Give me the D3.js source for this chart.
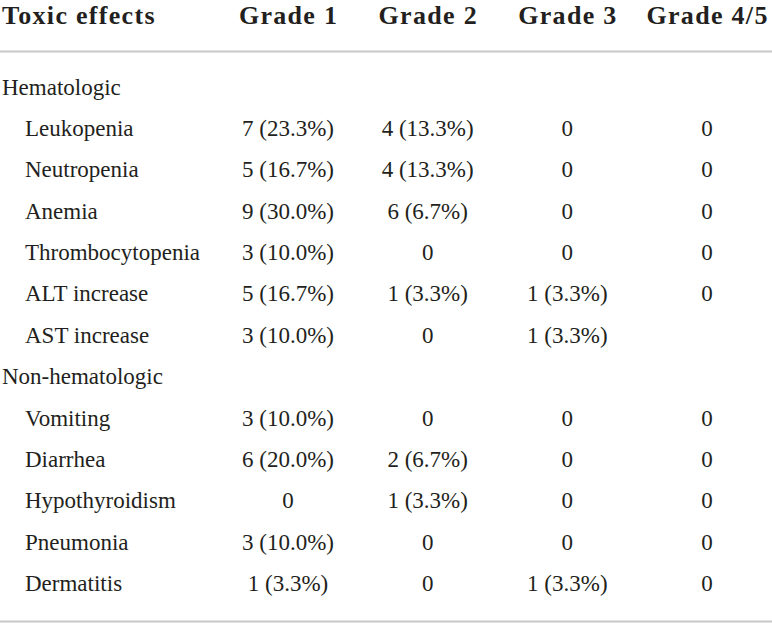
<!DOCTYPE html>
<html>
<head>
<meta charset="utf-8">
<script src="https://cdn.jsdelivr.net/npm/d3@7"></script>
<style>
  html, body { margin: 0; padding: 0; background: #fff; }
  svg { display: block; }
</style>
</head>
<body>
<div id="chart"></div>
<script>
// column headers
var columns = ["Grade 1", "Grade 2", "Grade 3", "Grade 4/5"];

// table rows, in order; section rows have no values
var rowLabels = [
    "Hematologic", "Leukopenia", "Neutropenia", "Anemia", "Thrombocytopenia",
    "ALT increase", "AST increase",
    "Non-hematologic", "Vomiting", "Diarrhea", "Hypothyroidism", "Pneumonia", "Dermatitis"
];
var sectionRows = ["Hematologic", "Non-hematologic"];

var grade1 = [null, "7 (23.3%)", "5 (16.7%)", "9 (30.0%)", "3 (10.0%)", "5 (16.7%)", "3 (10.0%)",
              null, "3 (10.0%)", "6 (20.0%)", "0", "3 (10.0%)", "1 (3.3%)"];
var grade2 = [null, "4 (13.3%)", "4 (13.3%)", "6 (6.7%)", "0", "1 (3.3%)", "0",
              null, "0", "2 (6.7%)", "1 (3.3%)", "0", "0"];
var grade3 = [null, "0", "0", "0", "0", "1 (3.3%)", "1 (3.3%)",
              null, "0", "0", "0", "0", "1 (3.3%)"];
var grade45 = [null, "0", "0", "0", "0", "0", "",
               null, "0", "0", "0", "0", "0"];

var width = 772;
var height = 623;
var serif = "'Liberation Serif', 'Times New Roman', serif";

var svg = d3.select("#chart").append("svg")
    .attr("width", width)
    .attr("height", height)
    .attr("font-family", serif)
    .attr("fill", "#231f20");

var x = d3.scalePoint()
    .domain(columns)
    .range([288, 707]);

var y = d3.scalePoint()
    .domain(d3.range(rowLabels.length))
    .range([94.5, 591]);

var values = [grade1, grade2, grade3, grade45];

// header
var headY = 24;

svg.append("text")
    .attr("x", 2)
    .attr("y", headY)
    .attr("font-size", 26)
    .attr("font-weight", "bold")
    .attr("letter-spacing", 1.3)
    .text("Toxic effects");

svg.selectAll("text.head")
    .data(columns)
    .enter().append("text")
    .attr("class", "head")
    .attr("x", function (d) { return x(d) + 0.6; })
    .attr("y", headY)
    .attr("text-anchor", "middle")
    .attr("font-size", 26)
    .attr("font-weight", "bold")
    .attr("letter-spacing", 1.3)
    .text(function (d) { return d; });

// rules
svg.selectAll("line.rule")
    .data([51.5, 621.5])
    .enter().append("line")
    .attr("class", "rule")
    .attr("x1", 0)
    .attr("x2", width)
    .attr("y1", function (d) { return d; })
    .attr("y2", function (d) { return d; })
    .style("stroke", "#c8c8c8")
    .style("stroke-width", 2);

// row labels
svg.selectAll("text.label")
    .data(rowLabels)
    .enter().append("text")
    .attr("class", "label")
    .attr("x", function (d) { return sectionRows.indexOf(d) >= 0 ? 2 : 25; })
    .attr("y", function (d, i) { return y(i); })
    .attr("font-size", 23)
    .text(function (d) { return d; });

// cells
columns.forEach(function (col, c) {
    svg.selectAll("text.cell" + c)
        .data(values[c])
        .enter().append("text")
        .attr("class", "cell" + c)
        .attr("x", x(col))
        .attr("y", function (d, i) { return y(i); })
        .attr("text-anchor", "middle")
        .attr("font-size", 23)
        .text(function (d) { return d || ""; });
});
</script>
</body>
</html>
